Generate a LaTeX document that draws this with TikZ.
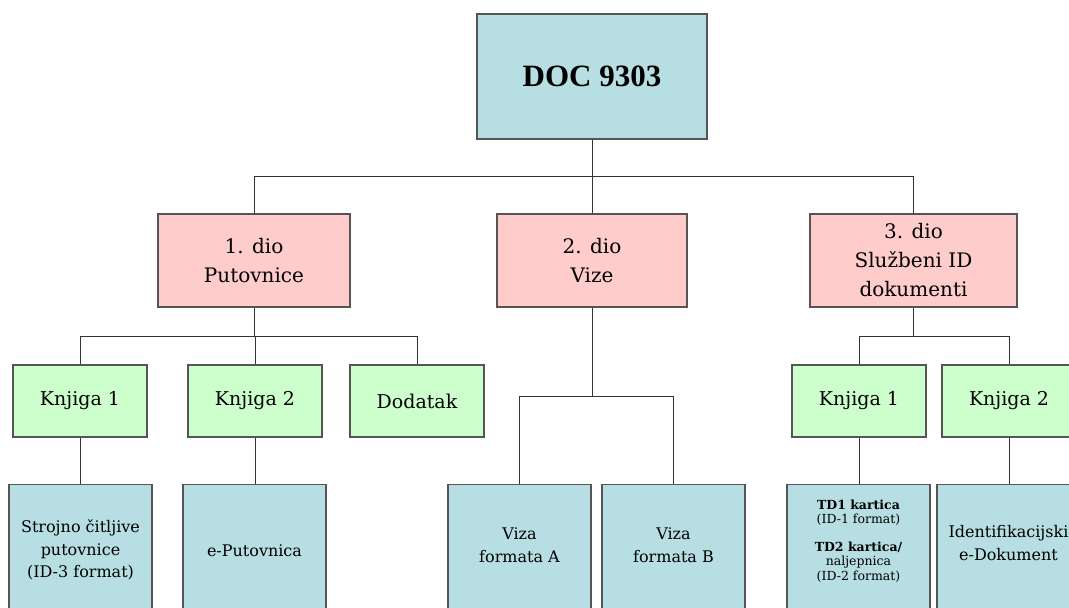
\documentclass[tikz,border=0pt]{standalone}
\usepackage{fontspec}
\setmainfont{DejaVu Serif}
\newfontfamily\docfont{Liberation Serif}
\definecolor{bluefill}{HTML}{B7DEE2}
\definecolor{pinkfill}{HTML}{FFCCCC}
\definecolor{greenfill}{HTML}{CCFFCC}
\definecolor{edgecol}{HTML}{555555}
\definecolor{linecol}{HTML}{333333}
\tikzset{
  box/.style={rectangle, draw=edgecol, line width=1.1pt, inner sep=0pt, align=center},
  docbox/.style={box, fill=bluefill, minimum width=230, minimum height=125,
    font=\docfont\bfseries\fontsize{31}{36}\selectfont},
  partbox/.style={box, fill=pinkfill, minimum height=93,
    font=\fontsize{20}{29}\selectfont},
  bookbox/.style={box, fill=greenfill, minimum width=134, minimum height=72,
    font=\fontsize{19}{26}\selectfont},
  leafbox/.style={box, fill=bluefill, minimum width=143, minimum height=150, anchor=north},
  leaftext/.style={align=center, inner sep=0pt, font=\fontsize{16}{22.5}\selectfont},
  smalltext/.style={align=center, inner sep=0pt, font=\fontsize{12.5}{14.5}\selectfont},
  conn/.style={draw=linecol, line width=0.9pt},
}
\begin{document}
\begin{tikzpicture}[x=1pt, y=-1pt]
\useasboundingbox (0,0) rectangle (1069,608);
\clip (0,0) rectangle (1069,608);
\fill[white] (0,0) rectangle (1069,608);

% top
\node[docbox] (doc) at (592,76.5) {DOC 9303};

% parts
\node[partbox, minimum width=192] (p1) at (254,260.5) {1. dio\\Putovnice};
\node[partbox, minimum width=190] (p2) at (592,260.5) {2. dio\\Vize};
\node[partbox, minimum width=207] (p3) at (913.5,260.5) {3. dio\\Službeni ID\\dokumenti};

% books
\node[bookbox] (g1) at (80,401) {Knjiga 1};
\node[bookbox] (g2) at (255,401) {Knjiga 2};
\node[bookbox] (g3) at (417,401) {Dodatak};
\node[bookbox] (g4) at (859,401) {Knjiga 1};
\node[bookbox] (g5) at (1009,401) {Knjiga 2};

% leaves
\node[leafbox] (b1) at (80.5,484) {};
\node[leafbox] (b2) at (254.5,484) {};
\node[leafbox] (b3) at (519.5,484) {};
\node[leafbox] (b4) at (673.5,484) {};
\node[leafbox] (b5) at (858.5,484) {};
\node[leafbox] (b6) at (1008.5,484) {};

\node[leaftext] (t1) at (80.5,550) {Strojno čitljive\\putovnice\\(ID-3 format)};
\node[leaftext] (t2) at (254.5,551) {e-Putovnica};
\node[leaftext] (t3) at (519.5,545) {Viza\\formata A};
\node[leaftext] (t4) at (673.5,545) {Viza\\formata B};
\node[smalltext] (t5) at (858.5,541) {\textbf{TD1 kartica}\\(ID-1 format)\\[13pt]\textbf{TD2 kartica/}\\naljepnica\\(ID-2 format)};
\node[leaftext] (t6) at (1008.5,543) {Identifikacijski\\e-Dokument};

% junctions
\coordinate (j1) at (592,176);
\coordinate (j2) at (254,336);
\coordinate (j3) at (592,396);
\coordinate (j4) at (913.5,336);

% connectors
\draw[conn] (doc.south) -- (j1);
\draw[conn] (j1) -| (p1.north);
\draw[conn] (j1) -- (p2.north);
\draw[conn] (j1) -| (p3.north);

\draw[conn] (p1.south) -- (j2);
\draw[conn] (j2) -| (g1.north);
\draw[conn] (j2) -| (g2.north);
\draw[conn] (j2) -| (g3.north);

\draw[conn] (p2.south) -- (j3);
\draw[conn] (j3) -| (b3.north);
\draw[conn] (j3) -| (b4.north);

\draw[conn] (p3.south) -- (j4);
\draw[conn] (j4) -| (g4.north);
\draw[conn] (j4) -| (g5.north);

\draw[conn] (g1.south) -- (g1.south |- b1.north);
\draw[conn] (g2.south) -- (g2.south |- b2.north);
\draw[conn] (g4.south) -- (g4.south |- b5.north);
\draw[conn] (g5.south) -- (g5.south |- b6.north);
\end{tikzpicture}
\end{document}
